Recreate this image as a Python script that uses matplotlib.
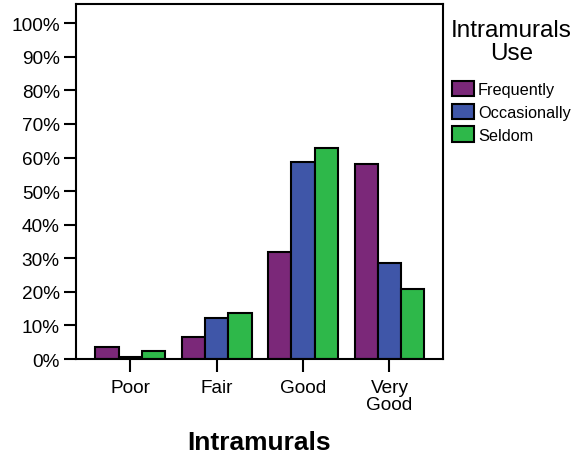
import matplotlib
matplotlib.use("Agg")
import matplotlib.pyplot as plt
import numpy as np

categories = ["Poor", "Fair", "Good", "Very\nGood"]
series_names = ["Frequently", "Occasionally", "Seldom"]
frequently = [3.5, 6.6, 31.8, 58.1]
occasionally = [0.5, 12.1, 58.6, 28.7]
seldom = [2.5, 13.8, 62.9, 20.9]
yticks = [0, 10, 20, 30, 40, 50, 60, 70, 80, 90, 100]
ytick_labels = [f"{v}%" for v in yticks]
colors = ["#7B2879", "#3F56A8", "#2EB84A"]

plt.rcParams['font.family'] = ['Liberation Sans', 'DejaVu Sans']

fig = plt.figure(figsize=(5.87, 4.56), dpi=100)
ax = fig.add_axes([0.1303, 0.2105, 0.6237, 0.7775])

x = np.arange(len(categories))
w = 0.27
for i, (vals, name, c) in enumerate(zip([frequently, occasionally, seldom], series_names, colors)):
    ax.bar(x + (i - 1) * w, vals, width=w, color=c, edgecolor="black", linewidth=1.5, label=name)

ax.set_xlim(-0.625, 3.615)
ax.set_ylim(0, 105.6)
ax.set_yticks(yticks)
ax.set_yticklabels(ytick_labels)
ax.set_xticks(x)
ax.set_xticklabels(categories, linespacing=1.02)
ax.tick_params(axis="both", direction="out", length=9, width=1.5, labelsize=13.7, pad=3)
ax.tick_params(axis="x", pad=5.5)
for s in ax.spines.values():
    s.set_linewidth(1.5)
ax.set_xlabel("Intramurals", fontsize=19, fontweight="bold", labelpad=12)

leg = ax.legend(loc="upper left", bbox_to_anchor=(0.768, 0.957), bbox_transform=fig.transFigure,
                frameon=False, title="Intramurals\nUse", fontsize=11.7, alignment="center",
                handlelength=1.37, handleheight=1.1, handletextpad=0.25, labelspacing=0.40,
                borderaxespad=0, borderpad=0)
leg.get_title().set_fontsize(17.5)
leg.get_title().set_linespacing(1.1)
leg.get_title().set_multialignment("center")
leg._legend_box.sep = 11.9
for p in leg.get_patches():
    p.set_linewidth(1.5)

fig.savefig("out.png", dpi=100)
